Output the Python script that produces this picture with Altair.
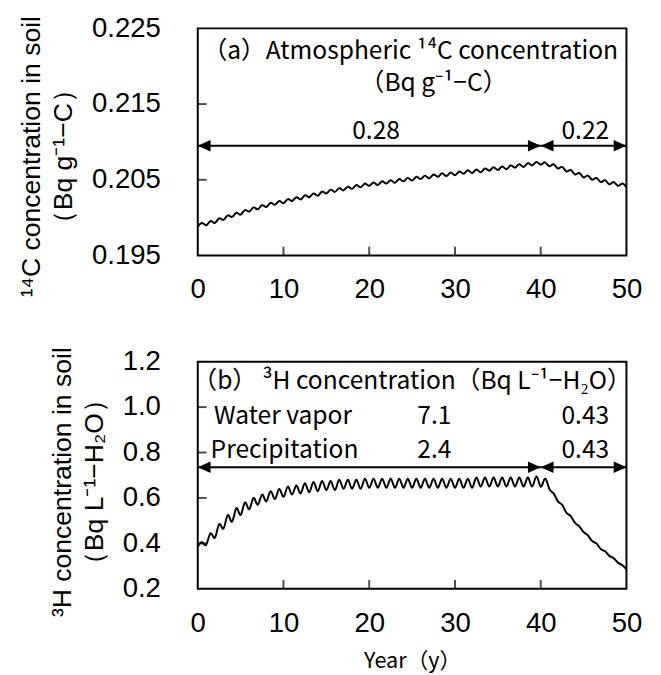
import altair as alt
import pandas as pd

# ---------------- data ----------------
years = [i / 2 for i in range(101)]

c14_soil = [
    0.1988, 0.1993, 0.1990, 0.19955, 0.1993, 0.1999, 0.1997, 0.2003, 0.2001, 0.20065,
    0.2004, 0.2010, 0.2008, 0.20135, 0.2011, 0.20165, 0.2014, 0.20195, 0.2017, 0.2022,
    0.2019, 0.20245, 0.2022, 0.2027, 0.2024, 0.20295, 0.2027, 0.2032, 0.2029, 0.20345,
    0.2032, 0.2037, 0.2034, 0.2039, 0.2036, 0.2041, 0.2038, 0.2043, 0.2040, 0.2045,
    0.2042, 0.20465, 0.2043, 0.2048, 0.2045, 0.20495, 0.2046, 0.2051, 0.2048, 0.20525,
    0.2049, 0.2054, 0.2051, 0.20555, 0.2052, 0.2057, 0.2054, 0.20585, 0.2055, 0.20595,
    0.2056, 0.2061, 0.2058, 0.20625, 0.2059, 0.20635, 0.2060, 0.2065, 0.2062, 0.20665,
    0.2063, 0.20675, 0.2064, 0.2069, 0.2066, 0.20705, 0.2067, 0.2072, 0.2069, 0.20735,
    0.2070, 0.2073, 0.2068, 0.20705, 0.2065, 0.2067, 0.2061, 0.2063, 0.2057, 0.2059,
    0.2053, 0.20555, 0.2050, 0.20525, 0.2047, 0.20495, 0.2044, 0.2047, 0.2042, 0.2045,
    0.2040,
]

h3_soil = [
    0.385, 0.405, 0.395, 0.445, 0.425, 0.485, 0.465, 0.525, 0.495, 0.555,
    0.525, 0.580, 0.550, 0.600, 0.570, 0.615, 0.585, 0.630, 0.595, 0.640,
    0.605, 0.650, 0.615, 0.655, 0.620, 0.665, 0.625, 0.670, 0.630, 0.675,
    0.635, 0.675, 0.635, 0.680, 0.640, 0.680, 0.640, 0.680, 0.640, 0.685,
    0.645, 0.685, 0.645, 0.685, 0.645, 0.685, 0.645, 0.685, 0.645, 0.685,
    0.645, 0.685, 0.645, 0.685, 0.645, 0.685, 0.645, 0.685, 0.645, 0.685,
    0.645, 0.685, 0.645, 0.685, 0.645, 0.690, 0.650, 0.690, 0.650, 0.690,
    0.650, 0.690, 0.650, 0.690, 0.650, 0.690, 0.650, 0.690, 0.650, 0.695,
    0.650, 0.685, 0.640, 0.620, 0.585, 0.570, 0.535, 0.520, 0.490, 0.475,
    0.450, 0.435, 0.410, 0.400, 0.375, 0.365, 0.345, 0.335, 0.315, 0.305,
    0.285,
]

x_tick_values = [0, 10, 20, 30, 40, 50]
x_inner_ticks = [10, 20, 30, 40]
c14_tick_values = [0.195, 0.205, 0.215, 0.225]
c14_inner_ticks = [0.205, 0.215]
h3_tick_values = [0.2, 0.4, 0.6, 0.8, 1.0, 1.2]
h3_inner_ticks = [0.4, 0.6, 0.8, 1.0]

# arrows: period boundaries
arrow_start = [0, 40]
arrow_end = [40, 50]
c14_arrow_level = 0.2095
h3_arrow_level = 0.735

# annotations
c14_center_text = ["（a）Atmospheric ¹⁴C concentration", "（Bq g⁻¹−C）", "0.28", "0.22"]
c14_center_x = [24.8, 27.5, 20.8, 45.2]
c14_center_y = [0.2220, 0.2177, 0.2114, 0.2114]

h3_center_text = ["（b） ³H concentration（Bq L⁻¹−H₂O）", "7.1", "0.43", "2.4", "0.43"]
h3_center_x = [25.0, 27.6, 45.2, 27.6, 45.2]
h3_center_y = [1.113, 0.961, 0.961, 0.809, 0.809]
h3_left_text = ["Water vapor", "Precipitation"]
h3_left_x = [1.9, 1.5]
h3_left_y = [0.961, 0.809]

# ---------------- styling ----------------
W, H = 436, 231
AX_FONT = "Liberation Sans"
TX_FONT = "Noto Sans CJK JP"
RIGHT_HEAD = "M0,0 L-2,-0.9 L-2,0.9 Z"
LEFT_HEAD = "M0,0 L2,-0.9 L2,0.9 Z"


def panel(values, ydom, yvals, yfmt, ytitle, ytitle_y, yinner, arrow_level,
          ctext, cx, cy, ltext=None, lx=None, ly=None, xtitle=None):
    xs = alt.Scale(domain=[0, 50], nice=False, zero=False)
    ys = alt.Scale(domain=ydom, nice=False, zero=False)
    xaxis = alt.Axis(values=x_tick_values, format="d", ticks=False, domain=False, grid=False,
                     labelFont=AX_FONT, labelFontSize=28, labelColor="black",
                     labelPadding=21, labelFlush=False,
                     title=xtitle, titleFont=TX_FONT, titleFontSize=22,
                     titleFontWeight="normal", titleColor="black", titlePadding=14)
    yaxis = alt.Axis(values=yvals, format=yfmt, ticks=False, domain=False, grid=False,
                     labelFont=AX_FONT, labelFontSize=28, labelColor="black",
                     labelPadding=38, labelFlush=False,
                     title=ytitle, titleFont=AX_FONT, titleFontSize=27,
                     titleFontWeight="normal", titleColor="black",
                     titlePadding=14, titleLineHeight=33, titleY=ytitle_y)

    line_df = pd.DataFrame({"t": years, "v": values})
    line = alt.Chart(line_df).mark_line(color="black", strokeWidth=2, interpolate="natural").encode(
        x=alt.X("t:Q", scale=xs, axis=xaxis),
        y=alt.Y("v:Q", scale=ys, axis=yaxis),
    )

    xt = alt.Chart(pd.DataFrame({"t": x_inner_ticks})).mark_tick(
        color="black", size=9, thickness=2).encode(
        x=alt.X("t:Q", scale=xs, axis=xaxis), y=alt.value(H - 4.5))
    yt = alt.Chart(pd.DataFrame({"v": yinner})).mark_tick(
        color="black", size=9, thickness=2).encode(
        y=alt.Y("v:Q", scale=ys, axis=yaxis), x=alt.value(4.5))

    arr_df = pd.DataFrame({"a": arrow_start, "b": arrow_end, "v": [arrow_level] * len(arrow_start)})
    rules = alt.Chart(arr_df).mark_rule(color="black", strokeWidth=2).encode(
        x=alt.X("a:Q", scale=xs, axis=xaxis), x2="b:Q",
        y=alt.Y("v:Q", scale=ys, axis=yaxis))

    head_x = arrow_start + arrow_end
    head_shape = [LEFT_HEAD] * len(arrow_start) + [RIGHT_HEAD] * len(arrow_end)
    head_df = pd.DataFrame({"t": head_x, "v": [arrow_level] * len(head_x), "s": head_shape})
    heads = alt.Chart(head_df).mark_point(filled=True, color="black", opacity=1, size=169,
                                          strokeWidth=0).encode(
        x=alt.X("t:Q", scale=xs, axis=xaxis), y=alt.Y("v:Q", scale=ys, axis=yaxis),
        shape=alt.Shape("s:N", scale=None))

    ct_df = pd.DataFrame({"t": cx, "v": cy, "label": ctext})
    ctexts = alt.Chart(ct_df).mark_text(font=TX_FONT, fontSize=25, color="black",
                                        align="center", baseline="middle").encode(
        x=alt.X("t:Q", scale=xs, axis=xaxis), y=alt.Y("v:Q", scale=ys, axis=yaxis),
        text="label:N")
    layers = [line, xt, yt, rules, heads, ctexts]
    if ltext:
        lt_df = pd.DataFrame({"t": lx, "v": ly, "label": ltext})
        layers.append(alt.Chart(lt_df).mark_text(font=TX_FONT, fontSize=25, color="black",
                                                 align="left", baseline="middle").encode(
            x=alt.X("t:Q", scale=xs, axis=xaxis), y=alt.Y("v:Q", scale=ys, axis=yaxis),
            text="label:N"))
    return alt.layer(*layers).properties(width=W, height=H)


top = panel(c14_soil, [0.195, 0.225], c14_tick_values, ".3f",
            ["¹⁴C concentration in soil", "（Bq g⁻¹−C）"], 130, c14_inner_ticks,
            c14_arrow_level, c14_center_text, c14_center_x, c14_center_y)
bottom = panel(h3_soil, [0.2, 1.2], h3_tick_values, ".1f",
               ["³H concentration in soil", "（Bq L⁻¹−H₂O）"], 122, h3_inner_ticks,
               h3_arrow_level, h3_center_text, h3_center_x, h3_center_y,
               h3_left_text, h3_left_x, h3_left_y, xtitle="Year（y）")

chart = alt.vconcat(top, bottom, spacing=41).properties(
    padding={"left": 8, "top": 0, "right": 10, "bottom": 0},
    background="white",
).configure_view(stroke="black", strokeWidth=2)

chart.save("out.html", embed_options={"renderer": "svg", "actions": False})
